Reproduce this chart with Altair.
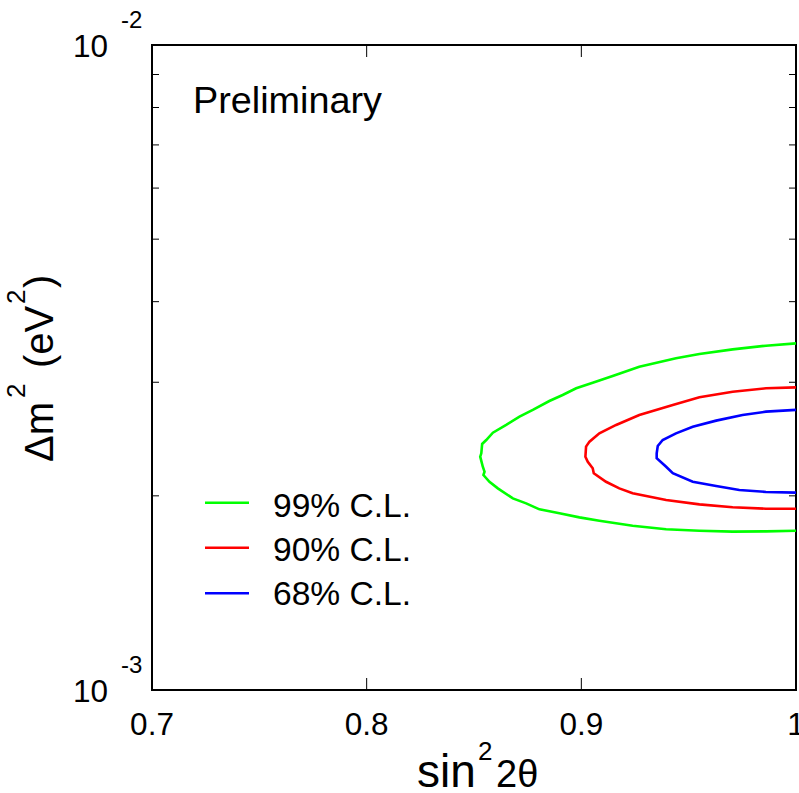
import altair as alt
import pandas as pd

# ---------------- data ----------------
# Delta m^2 values are in units of 1e-3 eV^2
green_x = [1.0, 0.986, 0.9705, 0.955, 0.9441, 0.927, 0.9146, 0.9053, 0.8976, 0.8913, 0.8851, 0.8774,
           0.8712, 0.865, 0.8588, 0.8557, 0.8538, 0.8534, 0.8529, 0.8541, 0.8549, 0.8544, 0.8572, 0.8611,
           0.8681, 0.8743, 0.8805, 0.8898, 0.8991, 0.9084, 0.9239, 0.9395, 0.955, 0.9705, 0.986, 1.0]
green_y = [3.447, 3.418, 3.374, 3.318, 3.268, 3.171, 3.068, 2.995, 2.936, 2.867, 2.806, 2.718,
           2.653, 2.576, 2.506, 2.441, 2.407, 2.328, 2.300, 2.219, 2.180, 2.154, 2.103, 2.054,
           1.982, 1.947, 1.906, 1.879, 1.852, 1.830, 1.797, 1.775, 1.766, 1.760, 1.762, 1.766]

red_x = [1.0, 0.986, 0.9705, 0.955, 0.9426, 0.927, 0.9162, 0.9084, 0.9038, 0.9022, 0.9019, 0.903,
         0.9053, 0.9058, 0.9115, 0.9177, 0.9239, 0.9395, 0.955, 0.9705, 0.986, 1.0]
red_y = [2.946, 2.936, 2.900, 2.843, 2.766, 2.669, 2.576, 2.500, 2.427, 2.384, 2.300, 2.259,
         2.207, 2.168, 2.103, 2.054, 2.018, 1.970, 1.940, 1.920, 1.910, 1.910]

blue_x = [1.0, 0.986, 0.9751, 0.9628, 0.9519, 0.9441, 0.9379, 0.9356, 0.9351, 0.9351, 0.9395,
          0.9426, 0.9519, 0.9628, 0.9736, 0.986, 1.0]
blue_y = [2.718, 2.701, 2.669, 2.616, 2.560, 2.500, 2.441, 2.389, 2.328, 2.287, 2.219,
          2.168, 2.103, 2.072, 2.042, 2.028, 2.023]

cl_labels = ["99% C.L.", "90% C.L.", "68% C.L."]
cl_colors = ["#00ff00", "#ff0000", "#0000ff"]

x_tick_values = [0.8, 0.9]
x_label_values = [0.7, 0.8, 0.9, 1.0]
x_label_texts = ["0.7", "0.8", "0.9", "1"]
y_minor_ticks = [2e-3, 3e-3, 4e-3, 5e-3, 6e-3, 7e-3, 8e-3, 9e-3]
y_decades = [1e-2, 1e-3]
y_exponents = ["-2", "-3"]

FONT = "Liberation Sans"
W, H = 644, 645

rows = []
for lab, xs, ys in zip(cl_labels, [green_x, red_x, blue_x], [green_y, red_y, blue_y]):
    for i, (a, b) in enumerate(zip(xs, ys)):
        rows.append({"cl": lab, "x": a, "y": b * 1e-3, "order": i})
df = pd.DataFrame(rows)

xscale = alt.Scale(domain=[0.7, 1.0], nice=False, zero=False)
yscale = alt.Scale(type="log", domain=[1e-3, 1e-2], nice=False)

contours = alt.Chart(df).mark_line(strokeWidth=2.6, clip=True).encode(
    x=alt.X("x:Q", scale=xscale, axis=None),
    y=alt.Y("y:Q", scale=yscale, axis=None),
    color=alt.Color("cl:N", scale=alt.Scale(domain=cl_labels, range=cl_colors), legend=None),
    detail="cl:N",
    order="order:Q",
)

# ticks
ytick_df = pd.DataFrame({"v": y_minor_ticks})
yt_left = alt.Chart(ytick_df).mark_rule(color="black", strokeWidth=1).encode(
    y=alt.Y("v:Q", scale=yscale, axis=None), x=alt.value(0), x2=alt.value(7))
yt_right = alt.Chart(ytick_df).mark_rule(color="black", strokeWidth=1).encode(
    y=alt.Y("v:Q", scale=yscale, axis=None), x=alt.value(W - 7), x2=alt.value(W))

xtick_df = pd.DataFrame({"v": x_tick_values})
xt_bottom = alt.Chart(xtick_df).mark_rule(color="black", strokeWidth=1).encode(
    x=alt.X("v:Q", scale=xscale, axis=None), y=alt.value(H - 12), y2=alt.value(H))
xt_top = alt.Chart(xtick_df).mark_rule(color="black", strokeWidth=1).encode(
    x=alt.X("v:Q", scale=xscale, axis=None), y=alt.value(0), y2=alt.value(12))

# x tick labels
xlab_df = pd.DataFrame({"v": x_label_values, "t": x_label_texts})
xlabels = alt.Chart(xlab_df).mark_text(
    font=FONT, fontSize=31.5, align="center", baseline="alphabetic", color="black"
).encode(x=alt.X("v:Q", scale=xscale, axis=None), y=alt.value(H + 45), text="t:N")

# y decade labels 10^-2, 10^-3
ylab_df = pd.DataFrame({"v": y_decades, "e": y_exponents, "b": ["10", "10"]})
ylab_base = alt.Chart(ylab_df).mark_text(
    font=FONT, fontSize=31.5, align="right", baseline="alphabetic", dy=12, color="black"
).encode(y=alt.Y("v:Q", scale=yscale, axis=None), x=alt.value(-44), text="b:N")
ylab_exp = alt.Chart(ylab_df).mark_text(
    font=FONT, fontSize=24, align="left", baseline="alphabetic", dy=-17.5, color="black"
).encode(y=alt.Y("v:Q", scale=yscale, axis=None), x=alt.value(-31), text="e:N")


def txt(s, x, y, size, angle=0, align="left"):
    return alt.Chart(pd.DataFrame({"t": [s]})).mark_text(
        font=FONT, fontSize=size, align=align, baseline="alphabetic", angle=angle, color="black"
    ).encode(x=alt.value(x), y=alt.value(y), text="t:N")


texts = [
    txt("Preliminary", 41, 68, 37.8),
    # x title: sin^2 2theta
    txt("sin", 265, H + 97, 46),
    txt("2", 326, H + 70, 26),
    txt("2\u03b8", 344, H + 97, 38),
    # y title: Delta m^2 (eV^2)
    txt("\u0394m", -99, 417, 40, angle=270),
    txt("2", -127, 353, 26, angle=270),
    txt("(eV", -99, 323, 40, angle=270),
    txt("2", -127, 259, 26, angle=270),
    txt(")", -99, 243, 40, angle=270),
]

# legend
leg_line_y = [457.7, 502.7, 548.3]
leg_text_y = [471.7, 515.5, 560.0]
legend_layers = []
for lab, col, ly, ty in zip(cl_labels, cl_colors, leg_line_y, leg_text_y):
    legend_layers.append(
        alt.Chart(pd.DataFrame({"t": [lab]})).mark_rule(color=col, strokeWidth=2.6).encode(
            x=alt.value(53), x2=alt.value(97), y=alt.value(ly)))
    legend_layers.append(txt(lab, 121, ty, 33.6))

chart = alt.layer(
    contours, yt_left, yt_right, xt_bottom, xt_top, xlabels, ylab_base, ylab_exp,
    *texts, *legend_layers
).properties(
    width=W, height=H,
    padding={"left": 152, "top": 45, "right": 3, "bottom": 103},
    autosize=alt.AutoSizeParams(type="none"),
).configure_view(stroke="black", strokeWidth=2)

chart.save("out.html", embed_options={"renderer": "svg", "actions": False})
